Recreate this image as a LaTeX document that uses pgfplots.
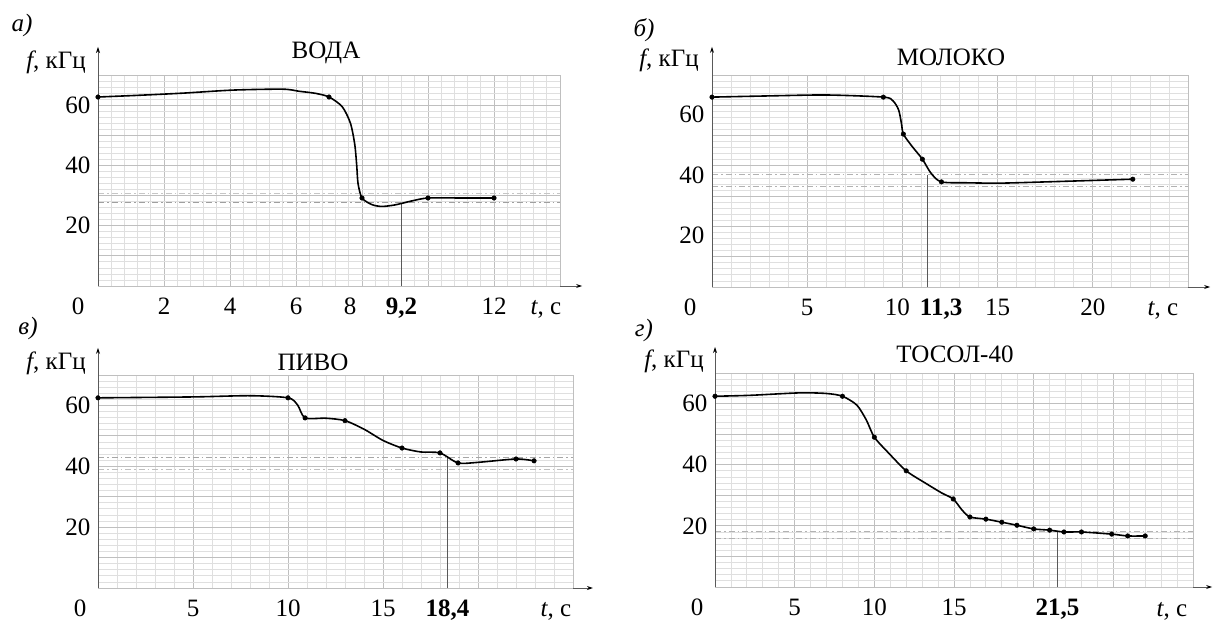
\documentclass[border=0pt]{standalone}
\usepackage{pgfplots}
\pgfplotsset{compat=1.18}
\usepackage{fontspec}
\setmainfont{Liberation Serif}
\usetikzlibrary{arrows.meta}
\newcommand\F{\fontsize{25}{30}\selectfont}
\tikzset{ax/.style={gray!70!black, line width=0.8pt, -{Stealth[length=6pt,width=4pt,black]}}}
\pgfplotsset{
 panel/.style={
  scale only axis, clip=false,
  axis line style={draw=none},
  tick style={draw=none},
  grid=both,
  major grid style={gray!50, line width=0.9pt},
  minor grid style={gray!25, line width=0.8pt},
  ymin=0, ymax=70,
  ytick={0,10,...,70},
  yticklabels={,,20,,40,,60,},
  minor y tick num=4,
  tick label style={font=\F},
  xticklabel style={anchor=base, yshift=-28.5pt},
  yticklabel style={xshift=-4pt},
  extra x tick style={grid=none},
 },
 curve/.style={black, line width=1.6pt, smooth, tension=0.45},
 dots/.style={only marks, mark=*, mark size=2.3pt, black},
 vline/.style={black!65, line width=0.8pt},
 dd/.style={line width=1pt, dash pattern=on 6pt off 3pt on 1.5pt off 3pt},
}
\begin{document}
\begin{tikzpicture}
\useasboundingbox (0,0) rectangle (1214pt,-624pt);
% ---------------- a) ----------------
\begin{axis}[panel, at={(98pt,-286pt)}, anchor=south west, width=462pt, height=211pt,
  xmin=0, xmax=14, xtick={0,2,...,14}, minor x tick num=4,
  xticklabels={\makebox[0pt]{0\hspace{40pt}},2,4,6,\makebox[0pt]{8\hspace{24pt}},,12,},
  extra x ticks={9.2}, extra x tick labels={\textbf{9,2}}]
\addplot[dd, gray!45] coordinates {(0,30.7) (14,30.7)};
\addplot[dd, gray!75] coordinates {(0,27.7) (14,27.7)};
\addplot[vline] coordinates {(9.2,0) (9.2,27.5)};
\addplot[curve] coordinates {(0,62.7) (1.3,63.3) (2.6,64) (4.1,65) (5.6,65.3) (6.1,64.6) (6.6,63.9) (7.0,62.7) (7.4,59.5) (7.65,54) (7.78,47) (7.84,40) (7.88,34) (8.0,29.2) (8.3,27.0) (8.6,26.4) (9.0,26.9) (9.5,28.2) (10,29.2) (11,29.2) (12,29.2)};
\addplot[dots] coordinates {(0,62.7) (7.0,62.7) (8.0,29.2) (10,29.2) (12,29.2)};
\draw[ax] (axis cs:0,0) -- (axis cs:0,79.3);
\draw[ax] (axis cs:14,0) -- (axis cs:14.67,0);
\end{axis}
% ---------------- b) ----------------
\begin{axis}[panel, at={(712pt,-287pt)}, anchor=south west, width=476pt, height=212pt,
  xmin=0, xmax=25, xtick={0,5,...,25}, minor x tick num=4,
  yticklabel style={yshift=-9pt},
  xticklabels={\makebox[0pt]{0\hspace{44pt}},5,\makebox[0pt]{10\hspace{10pt}},15,20,},
  extra x ticks={11.3}, extra x tick labels={\makebox[0pt]{\hspace{28pt}\textbf{11,3}}}]
\addplot[dd, gray!60] coordinates {(0,37) (25,37)};
\addplot[dd, gray!60] coordinates {(0,33.3) (25,33.3)};
\addplot[vline] coordinates {(11.3,0) (11.3,37)};
\addplot[curve] coordinates {(0,62.7) (3,63.1) (6,63.4) (9.0,62.7) (9.5,61.5) (9.8,58.5) (9.95,54) (10.05,50.5) (10.5,46.5) (11.05,42.2) (11.5,37.6) (12.05,34.7) (13.5,34.4) (15.2,34.3) (18,34.8) (22.1,35.6)};
\addplot[dots] coordinates {(0,62.7) (9,62.7) (10.05,50.5) (11.05,42.2) (12.05,34.7) (22.1,35.6)};
\draw[ax] (axis cs:0,0) -- (axis cs:0,79.3);
\draw[ax] (axis cs:25,0) -- (axis cs:26.16,0);
\end{axis}
% ---------------- c) ----------------
\begin{axis}[panel, at={(98pt,-588pt)}, anchor=south west, width=475pt, height=213pt,
  xmin=0, xmax=25, xtick={0,5,...,25}, minor x tick num=4,
  xticklabels={\makebox[0pt]{0\hspace{36pt}},5,10,15,,},
  extra x ticks={18.4}, extra x tick labels={\textbf{18,4}}]
\addplot[dd, gray!70] coordinates {(0,42.8) (25,42.8)};
\addplot[dd, gray!50] coordinates {(0,38.8) (25,38.8)};
\addplot[vline] coordinates {(18.4,0) (18.4,42.8)};
\addplot[curve] coordinates {(0,62.5) (5,62.8) (8,63.2) (10,62.5) (10.5,60.2) (10.9,55.9) (12,55.8) (13,55) (14,52.2) (15,48.5) (16,46) (17,44.7) (18,44.4) (18.95,41.1) (20,41.3) (22,42.4) (22.95,41.8)};
\addplot[dots] coordinates {(0,62.5) (10,62.5) (10.9,55.9) (13,55) (16,46) (18,44.4) (18.95,41.1) (22,42.4) (22.95,41.8)};
\draw[ax] (axis cs:0,0) -- (axis cs:0,78.9);
\draw[ax] (axis cs:25,0) -- (axis cs:26.05,0);
\end{axis}
% ---------------- d) ----------------
\begin{axis}[panel, at={(715pt,-587pt)}, anchor=south west, width=478pt, height=214pt,
  xmin=0, xmax=30, xtick={0,5,...,30}, minor x tick num=4,
  xticklabels={\makebox[0pt]{0\hspace{36pt}},5,10,15,,,},
  extra x ticks={21.5}, extra x tick labels={\textbf{21,5}}]
\addplot[dd, gray!60] coordinates {(0,18.3) (30,18.3)};
\addplot[dd, gray!60] coordinates {(0,16) (30,16)};
\addplot[vline] coordinates {(21.5,0) (21.5,18.3)};
\addplot[curve] coordinates {(0,62.4) (2.2,62.7) (5.3,63.5) (7,63.3) (8,62.4) (8.9,59.5) (9.5,54.6) (10,49) (10.9,43.8) (12,38) (13.2,34) (14.25,30.7) (14.95,28.8) (15.5,25.2) (16,22.9) (17,22.2) (18,21.2) (18.95,20.2) (20,19) (21,18.6) (21.9,18) (23,18) (24.9,17.3) (25.9,16.7) (27,16.7)};
\addplot[dots] coordinates {(0,62.4) (8,62.4) (10,49) (12,38) (14.95,28.8) (16,22.9) (17,22.2) (18,21.2) (18.95,20.2) (20,19) (21,18.6) (21.9,18) (23,18) (24.9,17.3) (25.9,16.7) (27,16.7)};
\draw[ax] (axis cs:0,0) -- (axis cs:0,78.5);
\draw[ax] (axis cs:30,0) -- (axis cs:31.2,0);
\end{axis}
% ---------------- texts ----------------
\node[font=\F\itshape] at (22pt,-25pt) {а)};
\node[font=\F\itshape] at (644pt,-30pt) {б)};
\node[font=\F\itshape] at (28pt,-328pt) {в)};
\node[font=\F\itshape] at (644pt,-330pt) {г)};
\node[font=\F] at (56pt,-62pt) {\textit{f}, кГц};
\node[font=\F] at (669pt,-60pt) {\textit{f}, кГц};
\node[font=\F] at (56pt,-363pt) {\textit{f}, кГц};
\node[font=\F] at (674pt,-361pt) {\textit{f}, кГц};
\node[font=\F] at (326pt,-53pt) {ВОДА};
\node[font=\F] at (951pt,-57pt) {МОЛОКО};
\node[font=\F] at (313pt,-362pt) {ПИВО};
\node[font=\F] at (955pt,-354pt) {ТОСОЛ-40};
\node[font=\F, anchor=base] at (546pt,-314.5pt) {\textit{t}, с};
\node[font=\F, anchor=base] at (1163pt,-315pt) {\textit{t}, с};
\node[font=\F, anchor=base] at (556pt,-616pt) {\textit{t}, с};
\node[font=\F, anchor=base] at (1172pt,-616pt) {\textit{t}, с};
\end{tikzpicture}
\end{document}
